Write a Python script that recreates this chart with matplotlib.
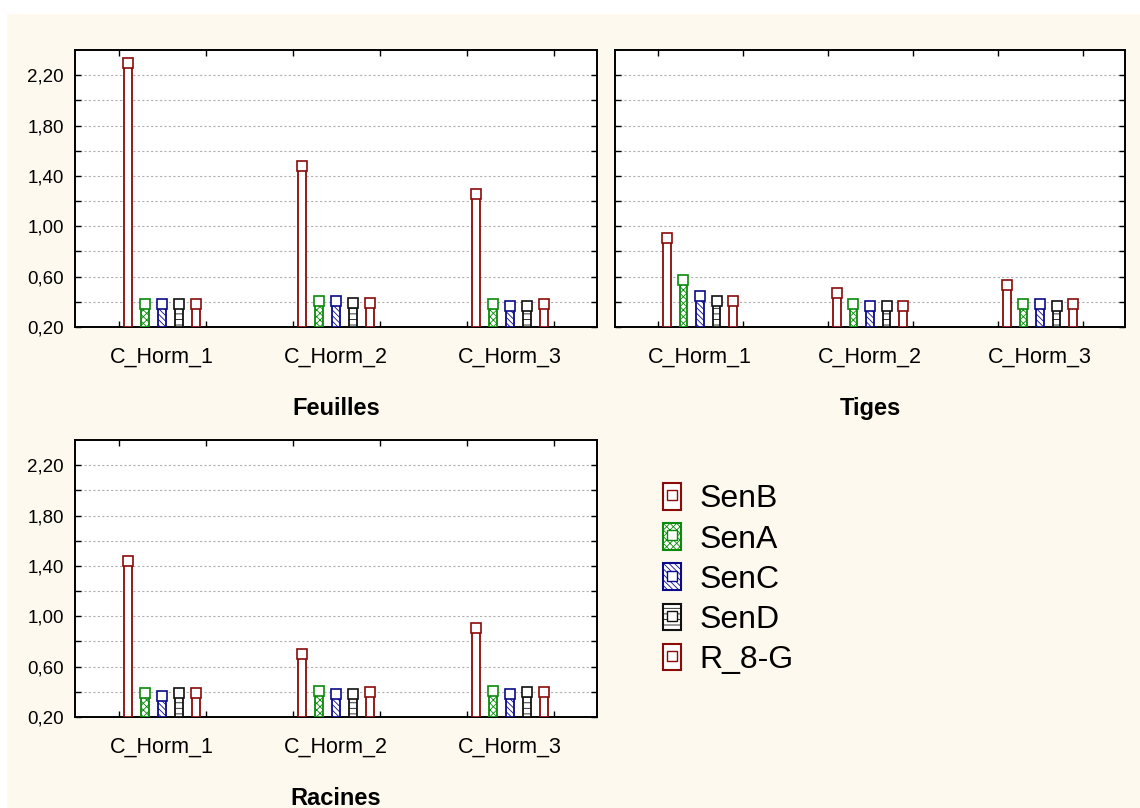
import numpy as np
import matplotlib.pyplot as plt
from matplotlib.patches import Patch, Rectangle
from matplotlib.lines import Line2D
from matplotlib.ticker import FixedLocator, FuncFormatter

plt.rcParams['font.family'] = ['Liberation Sans', 'DejaVu Sans']
plt.rcParams['hatch.linewidth'] = 0.6

# data
categories = ['C_Horm_1', 'C_Horm_2', 'C_Horm_3']
series = ['SenB', 'SenA', 'SenC', 'SenD', 'R_8-G']
panels = ['Feuilles', 'Tiges', 'Racines']

feuilles = {
    'SenB': [2.30, 1.48, 1.26],
    'SenA': [0.38, 0.41, 0.38],
    'SenC': [0.38, 0.41, 0.37],
    'SenD': [0.38, 0.39, 0.37],
    'R_8-G': [0.38, 0.39, 0.38],
}
tiges = {
    'SenB': [0.91, 0.47, 0.53],
    'SenA': [0.57, 0.38, 0.38],
    'SenC': [0.45, 0.37, 0.38],
    'SenD': [0.41, 0.37, 0.37],
    'R_8-G': [0.41, 0.37, 0.38],
}
racines = {
    'SenB': [1.44, 0.70, 0.91],
    'SenA': [0.39, 0.41, 0.41],
    'SenC': [0.37, 0.38, 0.38],
    'SenD': [0.39, 0.38, 0.40],
    'R_8-G': [0.39, 0.40, 0.40],
}
panel_data = [feuilles, tiges, racines]

colors = {'SenB': '#8b0a0a', 'SenA': '#0a8a0a', 'SenC': '#0a0a8b',
          'SenD': '#111111', 'R_8-G': '#8b0a0a'}
hatches = {'SenB': '', 'SenA': 'xxxxx', 'SenC': '\\\\\\\\\\\\',
           'SenD': '---', 'R_8-G': ''}
offsets = [-0.195, -0.0975, 0.0, 0.0975, 0.195]

W, H = 1140, 808
fig = plt.figure(figsize=(W / 100, H / 100), dpi=100, facecolor='white')
# cream background with a white margin on top/left
fig.patches.append(Rectangle((7 / W, 0), 1, 1 - 14 / H, transform=fig.transFigure,
                             facecolor='#fef9ee', edgecolor='none', zorder=-10))

def px_rect(l, t, r, b):
    return [l / W, 1 - b / H, (r - l) / W, (b - t) / H]

rects = [px_rect(75, 50, 597, 327), px_rect(615, 50, 1125, 327),
         px_rect(75, 440, 597, 717)]

x = np.arange(len(categories))

for k, (name, data) in enumerate(zip(panels, panel_data)):
    ax = fig.add_axes(rects[k])
    ax.set_facecolor('white')
    for i, s in enumerate(series):
        vals = np.array(data[s])
        ax.bar(x + offsets[i], vals - 0.2, bottom=0.2, width=0.045,
               facecolor='white', edgecolor=colors[s], hatch=hatches[s],
               linewidth=1.3, zorder=3)
        ax.plot(x + offsets[i], vals, 's', ms=7.5, mfc='white',
                mec=colors[s], mew=1.2, zorder=4, clip_on=False)
    ax.set_xlim(-0.5, 2.5)
    ax.set_ylim(0.2, 2.4)
    ax.set_xticks(x)
    ax.set_xticklabels(categories, fontsize=15.5)
    ax.xaxis.set_minor_locator(FixedLocator([-0.25, 0.25, 0.75, 1.25, 1.75, 2.25]))
    ax.tick_params(axis='x', which='major', length=0, pad=14)
    ax.tick_params(axis='x', which='minor', direction='in', length=4,
                   top=True, bottom=True, width=1)
    ax.set_yticks([0.2, 0.6, 1.0, 1.4, 1.8, 2.2])
    ax.yaxis.set_minor_locator(FixedLocator([0.4, 0.8, 1.2, 1.6, 2.0]))
    ax.yaxis.set_major_formatter(FuncFormatter(lambda v, p: f'{v:.2f}'.replace('.', ',')))
    ax.tick_params(axis='y', which='both', direction='in', length=4.5,
                   left=True, right=True, width=1)
    ax.tick_params(axis='y', which='major', labelsize=13.5, pad=8)
    if k == 1:
        ax.tick_params(axis='y', which='major', labelleft=False)
    ax.grid(axis='y', which='both', color='#b0b0b0', linestyle=(0, (2, 2)),
            linewidth=0.8, zorder=0)
    for sp in ax.spines.values():
        sp.set_linewidth(1.4)
    ax.set_xlabel(name, fontsize=17, fontweight='bold', labelpad=21)

handles = []
for s in series:
    p = Patch(facecolor='white', edgecolor=colors[s], hatch=hatches[s], linewidth=1.5)
    m = Line2D([], [], marker='s', ls='none', ms=7, mfc='white', mec=colors[s], mew=1.0)
    handles.append((p, m))
fig.legend(handles, series, loc='upper left', bbox_to_anchor=(663 / W, 1 - 483 / H),
           frameon=False, fontsize=23, handlelength=0.55, handleheight=0.9,
           handletextpad=0.6, labelspacing=0.28, borderpad=0, borderaxespad=0)

fig.savefig('out.png', dpi=100, facecolor=fig.get_facecolor())
